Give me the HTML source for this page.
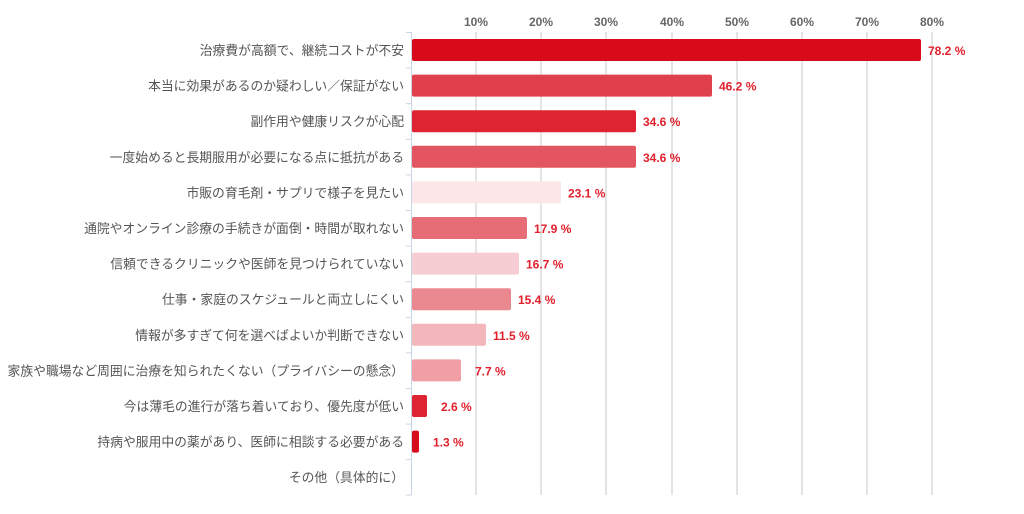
<!DOCTYPE html>
<html><head><meta charset="utf-8"><style>
body{margin:0;background:#fff;width:1024px;height:509px;overflow:hidden;font-family:"Liberation Sans","Noto Sans CJK JP",sans-serif}
svg text{font-family:"Liberation Sans","Noto Sans CJK JP",sans-serif}
</style></head><body>
<svg width="1024" height="509" xmlns="http://www.w3.org/2000/svg">
<g stroke="#dcdcdc" stroke-width="1.5">
<line x1="476" y1="32" x2="476" y2="495"/><line x1="541" y1="32" x2="541" y2="495"/><line x1="606" y1="32" x2="606" y2="495"/><line x1="672" y1="32" x2="672" y2="495"/><line x1="737" y1="32" x2="737" y2="495"/><line x1="802" y1="32" x2="802" y2="495"/><line x1="867" y1="32" x2="867" y2="495"/><line x1="932" y1="32" x2="932" y2="495"/>
</g>
<g font-size="12" font-weight="bold" fill="#666" text-anchor="middle">
<text x="476" y="26">10%</text><text x="541" y="26">20%</text><text x="606" y="26">30%</text><text x="672" y="26">40%</text><text x="737" y="26">50%</text><text x="802" y="26">60%</text><text x="867" y="26">70%</text><text x="932" y="26">80%</text>
</g>
<line x1="411.5" y1="32" x2="411.5" y2="495" stroke="#c8d4e4"/>
<g stroke="#c8d4e4">
<line x1="406" y1="32.5" x2="411" y2="32.5"/><line x1="406" y1="68" x2="411" y2="68"/><line x1="406" y1="103.7" x2="411" y2="103.7"/><line x1="406" y1="139.3" x2="411" y2="139.3"/><line x1="406" y1="174.9" x2="411" y2="174.9"/><line x1="406" y1="210.5" x2="411" y2="210.5"/><line x1="406" y1="246.1" x2="411" y2="246.1"/><line x1="406" y1="281.7" x2="411" y2="281.7"/><line x1="406" y1="317.3" x2="411" y2="317.3"/><line x1="406" y1="352.9" x2="411" y2="352.9"/><line x1="406" y1="388.5" x2="411" y2="388.5"/><line x1="406" y1="424.1" x2="411" y2="424.1"/><line x1="406" y1="459.7" x2="411" y2="459.7"/><line x1="406" y1="495" x2="411" y2="495"/>
</g>
<g>
<rect x="412" y="39" width="509" height="22" rx="2" fill="#d90b1a"/>
<rect x="412" y="74.6" width="300" height="22" rx="2" fill="#e0404c"/>
<rect x="412" y="110.2" width="224" height="22" rx="2" fill="#de2433"/>
<rect x="412" y="145.8" width="224" height="22" rx="2" fill="#e35561"/>
<rect x="412" y="181.4" width="149" height="22" rx="2" fill="#fce6e8"/>
<rect x="412" y="217" width="115" height="22" rx="2" fill="#e66d75"/>
<rect x="412" y="252.6" width="107" height="22" rx="2" fill="#f6cdd2"/>
<rect x="412" y="288.2" width="99" height="22" rx="2" fill="#ea8890"/>
<rect x="412" y="323.8" width="74" height="22" rx="2" fill="#f3b6bb"/>
<rect x="412" y="359.4" width="49" height="22" rx="2" fill="#ef9fa5"/>
<rect x="412" y="395" width="15" height="22" rx="2" fill="#de2433"/>
<rect x="412" y="430.6" width="7" height="22" rx="2" fill="#d90b1a"/>
</g>
<g font-size="12" font-weight="bold" fill="#e0202c">
<text x="928" y="55">78.2 %</text>
<text x="719" y="90.6">46.2 %</text>
<text x="643" y="126.2">34.6 %</text>
<text x="643" y="161.8">34.6 %</text>
<text x="568" y="197.4">23.1 %</text>
<text x="534" y="233">17.9 %</text>
<text x="526" y="268.6">16.7 %</text>
<text x="518" y="304.2">15.4 %</text>
<text x="493" y="339.8">11.5 %</text>
<text x="475" y="375.4">7.7 %</text>
<text x="441" y="411">2.6 %</text>
<text x="433" y="446.6">1.3 %</text>
</g>
<g font-size="12.8" fill="#555" text-anchor="end">
<text x="404" y="55">治療費が高額で、継続コストが不安</text>
<text x="404" y="90.6">本当に効果があるのか疑わしい／保証がない</text>
<text x="404" y="126.2">副作用や健康リスクが心配</text>
<text x="404" y="161.8">一度始めると長期服用が必要になる点に抵抗がある</text>
<text x="404" y="197.4">市販の育毛剤・サプリで様子を見たい</text>
<text x="404" y="233">通院やオンライン診療の手続きが面倒・時間が取れない</text>
<text x="404" y="268.6">信頼できるクリニックや医師を見つけられていない</text>
<text x="404" y="304.2">仕事・家庭のスケジュールと両立しにくい</text>
<text x="404" y="339.8">情報が多すぎて何を選べばよいか判断できない</text>
<text x="404" y="375.4">家族や職場など周囲に治療を知られたくない（プライバシーの懸念）</text>
<text x="404" y="411">今は薄毛の進行が落ち着いており、優先度が低い</text>
<text x="404" y="446.6">持病や服用中の薬があり、医師に相談する必要がある</text>
<text x="404" y="482.2">その他（具体的に）</text>
</g>
</svg>
</body></html>
